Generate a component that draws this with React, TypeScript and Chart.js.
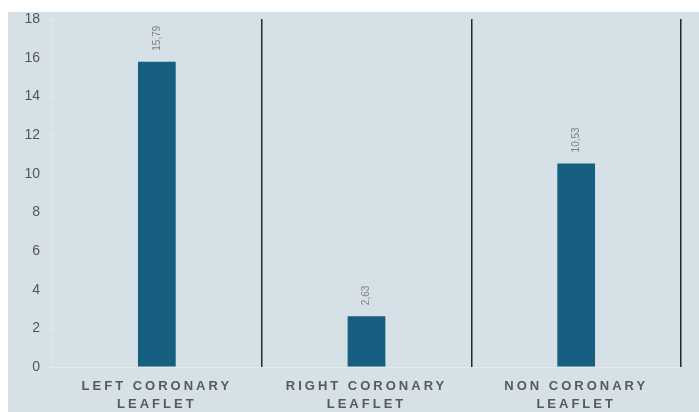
import React, { useEffect, useRef } from "react";
import { Chart, registerables, CategoryScale } from "chart.js";

Chart.register(...registerables);

class SpacedCategoryScale extends CategoryScale {
  static id = "spacedCategory";
  static defaults = CategoryScale.defaults;
  drawLabels(area: any) {
    const ctx = this.ctx as any;
    ctx.save();
    ctx.letterSpacing = "3px";
    super.drawLabels(area);
    ctx.restore();
  }
}
Chart.register(SpacedCategoryScale);

const categories: string[][] = [
  ["LEFT CORONARY", "LEAFLET"],
  ["RIGHT CORONARY", "LEAFLET"],
  ["NON CORONARY", "LEAFLET"],
];
const values: number[] = [15.79, 2.63, 10.53];
const valueLabels: string[] = ["15,79", "2,63", "10,53"];
const yTicks: number[] = [0, 2, 4, 6, 8, 10, 12, 14, 16, 18];

const valueLabelPlugin = {
  id: "valueLabels",
  afterDatasetsDraw(chart: any) {
    const ctx = chart.ctx;
    const meta = chart.getDatasetMeta(0);
    ctx.save();
    ctx.font = "10px 'Liberation Sans', Arial, sans-serif";
    ctx.fillStyle = "#808080";
    ctx.textAlign = "left";
    ctx.textBaseline = "middle";
    meta.data.forEach((bar: any, i: number) => {
      ctx.save();
      ctx.translate(bar.x, bar.y - 11);
      ctx.rotate(-Math.PI / 2);
      ctx.fillText(valueLabels[i], 0, 0);
      ctx.restore();
    });
    ctx.restore();
  },
};

export default function App() {
  const ref = useRef<HTMLCanvasElement | null>(null);
  useEffect(() => {
    if (!ref.current) return;
    const chart = new Chart(ref.current, {
      type: "bar",
      data: {
        labels: categories,
        datasets: [
          {
            data: values,
            backgroundColor: "#175f80",
            categoryPercentage: 1,
            barPercentage: 0.18,
          },
        ],
      },
      options: {
        animation: false,
        responsive: true,
        maintainAspectRatio: false,
        layout: { padding: { top: 7, right: 18, left: 0, bottom: 0 } },
        plugins: {
          legend: { display: false },
          tooltip: { enabled: false },
        },
        scales: {
          x: {
            type: "spacedCategory" as any,
            offset: true,
            grid: {
              offset: true,
              drawTicks: false,
              lineWidth: 1.5,
              color: (c: any) => (c.index === 0 ? "rgba(0,0,0,0)" : "#1e2a30"),
            },
            border: { display: true, color: "#e4e8eb", width: 1 },
            ticks: {
              padding: 10,
              color: "#595959",
              font: { family: "'Liberation Sans', Arial, sans-serif", size: 13, weight: "bold", lineHeight: 1.4 },
              maxRotation: 0,
              autoSkip: false,
            },
            afterFit: (s: any) => {
              s.height = 45;
            },
          },
          y: {
            min: 0,
            max: 18,
            afterBuildTicks: (s: any) => {
              s.ticks = yTicks.map((v) => ({ value: v }));
            },
            grid: {
              drawOnChartArea: false,
              drawTicks: true,
              tickLength: 5,
              color: "#e4e8eb",
            },
            border: { display: true, color: "#e4e8eb", width: 1 },
            ticks: {
              padding: 7,
              color: "#555555",
              font: { family: "'Liberation Sans', Arial, sans-serif", size: 14 },
            },
            afterFit: (s: any) => {
              s.width = 44;
              s.paddingTop = 0;
              s.paddingBottom = 0;
            },
          },
        },
      },
      plugins: [valueLabelPlugin],
    });
    return () => chart.destroy();
  }, []);
  return (
    <div
      style={{
        position: "fixed",
        left: 8,
        top: 12,
        width: 691,
        height: 400,
        background: "#d6e0e7",
      }}
    >
      <canvas ref={ref} />
    </div>
  );
}
